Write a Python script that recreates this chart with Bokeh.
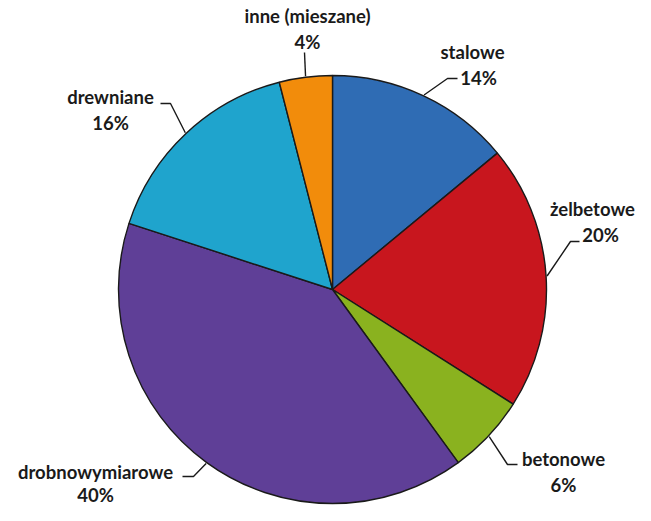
import math
from bokeh.plotting import figure
from bokeh.models import Range1d, ColumnDataSource
from bokeh.core.properties import value
from bokeh.embed import file_html
from bokeh.resources import INLINE

# ---- data ----
categories = ["stalowe", "żelbetowe", "betonowe", "drobnowymiarowe", "drewniane", "inne (mieszane)"]
shares = [14, 20, 6, 40, 16, 4]
colors = ["#2f6cb4", "#c8161e", "#8ab21f", "#5f3f97", "#1fa4cd", "#f28c0b"]

# ---- layout (reference pixel coordinates, y downward -> negated) ----
CX, CY, R = 332, 296, 215
label_pos = {  # (x of text centre, y of name line centre)
    "stalowe": (472, 58),
    "żelbetowe": (592, 215),
    "betonowe": (563, 465),
    "drobnowymiarowe": (95, 478),
    "drewniane": (110, 103),
    "inne (mieszane)": (307, 22),
}
pct_dx = {"stalowe": 6, "żelbetowe": 8, "betonowe": 0, "drobnowymiarowe": 0,
          "drewniane": 0, "inne (mieszane)": 0}
leader_elbow = {
    "stalowe": [(447, 85), (457, 85)],
    "żelbetowe": [(570, 248), (579, 248)],
    "betonowe": [(507, 471), (517, 471)],
    "drobnowymiarowe": [(193, 483), (182, 483)],
    "drewniane": [(170, 110), (160, 110)],
    "inne (mieszane)": [(304, 59)],
}

W, H = 635, 505
X0, Y0 = 0, 7
p = figure(width=W, height=H, output_backend="svg", toolbar_location=None,
           x_range=Range1d(X0, X0 + W), y_range=Range1d(-(Y0 + H), -Y0),
           min_border=0, outline_line_color=None)
p.axis.visible = False
p.grid.visible = False
p.background_fill_color = "white"
p.border_fill_color = "white"

total = sum(shares)
starts, ends = [], []
cum = 0.0
for s in shares:
    a0 = math.pi / 2 - 2 * math.pi * (cum + s) / total
    a1 = math.pi / 2 - 2 * math.pi * cum / total
    starts.append(a0)
    ends.append(a1)
    cum += s

src = ColumnDataSource(dict(cat=categories, share=shares, color=colors, start=starts, end=ends))
p.wedge(x=CX, y=-CY, radius=R - 1, start_angle="start", end_angle="end", direction="anticlock",
        fill_color="color", line_color="#1a1a1a", line_width=1.4, source=src)

FONT = value("Lato")
FS = "18.5px"
for cat, sh, a0, a1 in zip(categories, shares, starts, ends):
    mid = (a0 + a1) / 2
    ex = CX + R * math.cos(mid)
    ey = CY - R * math.sin(mid)
    pts = [(ex, ey)] + leader_elbow[cat]
    p.line([q[0] for q in pts], [-q[1] for q in pts], line_color="#1a1a1a", line_width=1.4)
    lx, ly = label_pos[cat]
    pct_y = ly + 23 if cat == "drobnowymiarowe" else ly + 26
    p.text(x=[lx], y=[-ly], text=[cat], text_align="center", text_baseline="middle",
           text_font=FONT, text_font_style="bold", text_font_size=FS, text_color="#1a1a1a")
    p.text(x=[lx + pct_dx[cat]], y=[-pct_y], text=[f"{sh}%"], text_align="center",
           text_baseline="middle", text_font=FONT, text_font_style="bold",
           text_font_size=FS, text_color="#1a1a1a")

open("out.html", "w").write(file_html(p, INLINE))
